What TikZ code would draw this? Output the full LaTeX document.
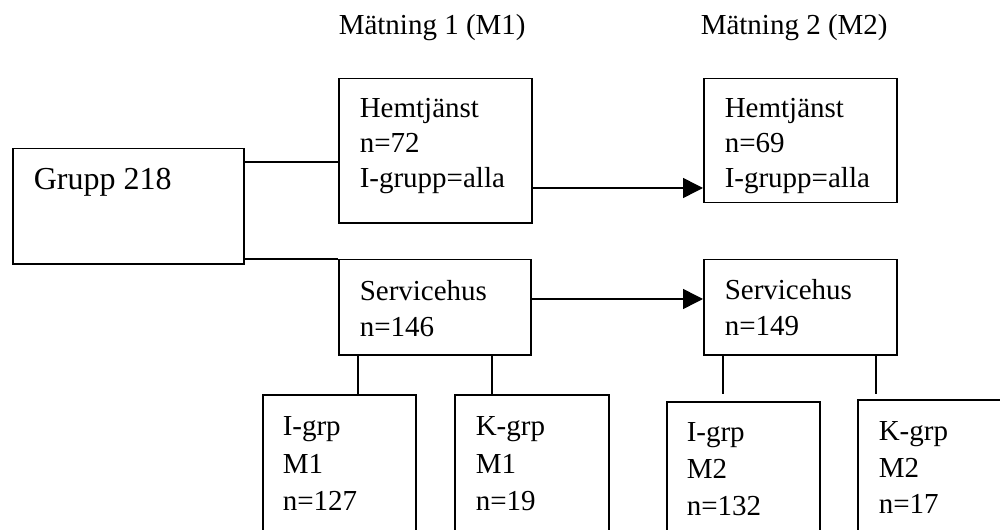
\documentclass[tikz,border=0pt]{standalone}
\usepackage{fontspec}
\setmainfont{Liberation Serif}
\usepackage{array}
\usetikzlibrary{arrows.meta}

\newcommand{\boxtxt}[2]{\begin{tabular}[t]{@{}p{#1}@{}}#2\end{tabular}}

\begin{document}
\begin{tikzpicture}[x=1bp, y=-1bp, line width=1.5bp,
    box/.style={draw, anchor=north west, inner xsep=21bp, inner ysep=0pt,
      font=\fontsize{29bp}{#1}\selectfont},
    box/.default=35bp,
    arr/.style={-{Triangle[length=20bp,width=20bp]}},
    head/.style={anchor=base west, inner sep=0pt, font=\fontsize{29bp}{35bp}\selectfont}]
    \useasboundingbox (0,0) rectangle (1000,530);
    \clip (0,0) rectangle (1000,530);

    % measurements
    \node[head] (m1) at (338,35) {Mätning 1 (M1)};
    \node[head] (m2) at (700,35) {Mätning 2 (M2)};

    \node[box, text height=41bp, text depth=74bp, font=\fontsize{32bp}{38bp}\selectfont] (grupp) at (12,148) {\boxtxt{189bp}{Grupp 218}};

    \node[box, text height=39bp, text depth=105bp] (hemt1) at (338,78) {\boxtxt{151bp}{Hemtjänst\\ n=72\\ I-grupp=alla}};
    \node[box, text height=39bp, text depth=85bp] (hemt2) at (703,78) {\boxtxt{151bp}{Hemtjänst\\ n=69\\ I-grupp=alla}};
    \node[box=36bp, text height=41bp, text depth=54bp] (serv1) at (338,259) {\boxtxt{150bp}{Servicehus\\ n=146}};
    \node[box=36bp, text height=40bp, text depth=55bp] (serv2) at (703,259) {\boxtxt{151bp}{Servicehus\\ n=149}};

    % groups
    \node[box=37.5bp, inner xsep=20bp, text height=41bp, text depth=150bp] (igrp1) at (262,394) {\boxtxt{113bp}{I-grp\\ M1\\ n=127}};
    \node[box=37.5bp, text height=41bp, text depth=150bp] (kgrp1) at (454,394) {\boxtxt{112bp}{K-grp\\ M1\\ n=19}};
    \node[box=37bp, inner xsep=20bp, text height=40bp, text depth=150bp] (igrp2) at (666,401) {\boxtxt{113bp}{I-grp\\ M2\\ n=132}};
    \node[box=36.5bp, text height=41bp, text depth=150bp] (kgrp2) at (857,399) {\boxtxt{111bp}{K-grp\\ M2\\ n=17}};

    \coordinate (y1) at (0,162);
    \coordinate (y2) at (0,188);
    \coordinate (y3) at (0,299);
    \coordinate (x1) at (358,0);
    \coordinate (x2) at (492,0);
    \coordinate (x3) at (723,394);
    \coordinate (x4) at (876,394);

    \draw (grupp.east |- y1) -- (hemt1.west |- y1);
    \draw (grupp.east |- serv1.north) -- (serv1.north west);
    \draw[arr] (hemt1.east |- y2) -- (hemt2.west |- y2);
    \draw[arr] (serv1.east |- y3) -- (serv2.west |- y3);
    \draw (serv1.south -| x1) -- (igrp1.north -| x1);
    \draw (serv1.south -| x2) -- (kgrp1.north -| x2);
    \draw (serv2.south -| x3) -- (x3);
    \draw (serv2.south -| x4) -- (x4);
\end{tikzpicture}
\end{document}
